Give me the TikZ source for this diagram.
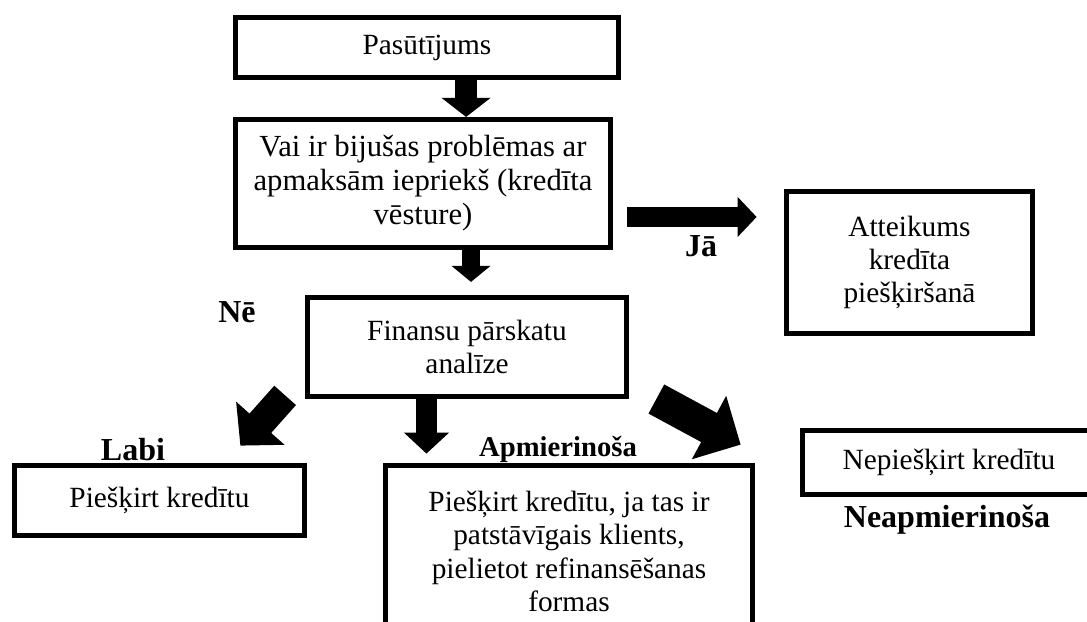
\documentclass[tikz,border=0pt]{standalone}
\usepackage{fontspec}
\setmainfont{Liberation Serif}
\usetikzlibrary{arrows.meta}

\begin{document}
\begin{tikzpicture}[x=0.75pt,y=-0.75pt,
    blk/.style n args={3}{line width=#1,-{Triangle[width=#2,length=#3]}}]
  \tikzstyle{box}=[draw,line width=3.6pt,align=center,inner sep=0pt,font=\fontsize{22}{25}\selectfont]
  \tikzstyle{lbl}=[font=\fontsize{24}{28}\selectfont\bfseries]
  \clip (0,0) rectangle (1087,621);

  \node[box,minimum width=287.4pt,minimum height=45.2pt] (order) at (427,47.5) {Pasūtījums};
  \node[box,minimum width=281.4pt,minimum height=96.2pt,font=\fontsize{23}{25.5}\selectfont] (history) at (423,183.5)
    {Vai ir bijušas problēmas ar\\apmaksām iepriekš (kredīta\\vēsture)};
  \node[box,minimum width=239.4pt,minimum height=74.4pt] (analysis) at (467,347)
    {Finansu pārskatu\\analīze};
  \node[box,minimum width=184.7pt,minimum height=106.7pt] (refuse) at (909.5,262.5)
    {Atteikums\\kredīta\\piešķiršanā};
  \node[box,minimum width=217.7pt,minimum height=52.7pt] (grant) at (159.5,500.5)
    {Piešķirt kredītu};
  \node[box,minimum width=275.4pt,minimum height=129.2pt] (partial) at (569,551.5)
    {Piešķirt kredītu, ja tas ir\\patstāvīgais klients,\\pielietot refinansēšanas\\formas};
  \node[box,minimum width=219.9pt,minimum height=48.2pt] (deny) at (949,462.5)
    {Nepiešķirt kredītu};

  \node[lbl] (yes) at (701,246) {Jā};
  \node[lbl] (no) at (237,312) {Nē};
  \node[lbl] (good) at (133,450) {Labi};
  \node[lbl,font=\fontsize{21.5}{26}\selectfont\bfseries] (ok) at (558,449) {Apmierinoša};
  \node[lbl] (bad) at (947,520) {Neapmierinoša};

  \draw[blk={16.5pt}{36pt}{14.3pt}] ([xshift=29.3pt]order.south) -- ([xshift=29.3pt]order.south |- history.north);
  \draw[blk={13.5pt}{28.5pt}{12pt},shorten >=9.8pt] ([xshift=36pt]history.south) -- ([xshift=36pt]history.south |- analysis.north);
  \draw[blk={15pt}{29.3pt}{14.3pt},shorten <=10.8pt,shorten >=20.5pt]
    ([yshift=-25.1pt]history.east) -- ([yshift=-25.1pt]history.east -| refuse.west);
  \draw[blk={21.8pt}{47.3pt}{22.5pt}] ([xshift=-14.9pt,yshift=2.7pt]analysis.south west) -- ([xshift=-50pt,yshift=13pt]grant.north east);
  \draw[blk={15.8pt}{33pt}{15.8pt},shorten >=7pt] ([xshift=-30.4pt]analysis.south) -- ([xshift=-30.4pt]analysis.south |- partial.north);
  \draw[blk={24.8pt}{52.5pt}{27pt}] ([xshift=20.5pt]analysis.south east) -- ([xshift=-44.5pt,yshift=-12.5pt]deny.north west);
\end{tikzpicture}
\end{document}
